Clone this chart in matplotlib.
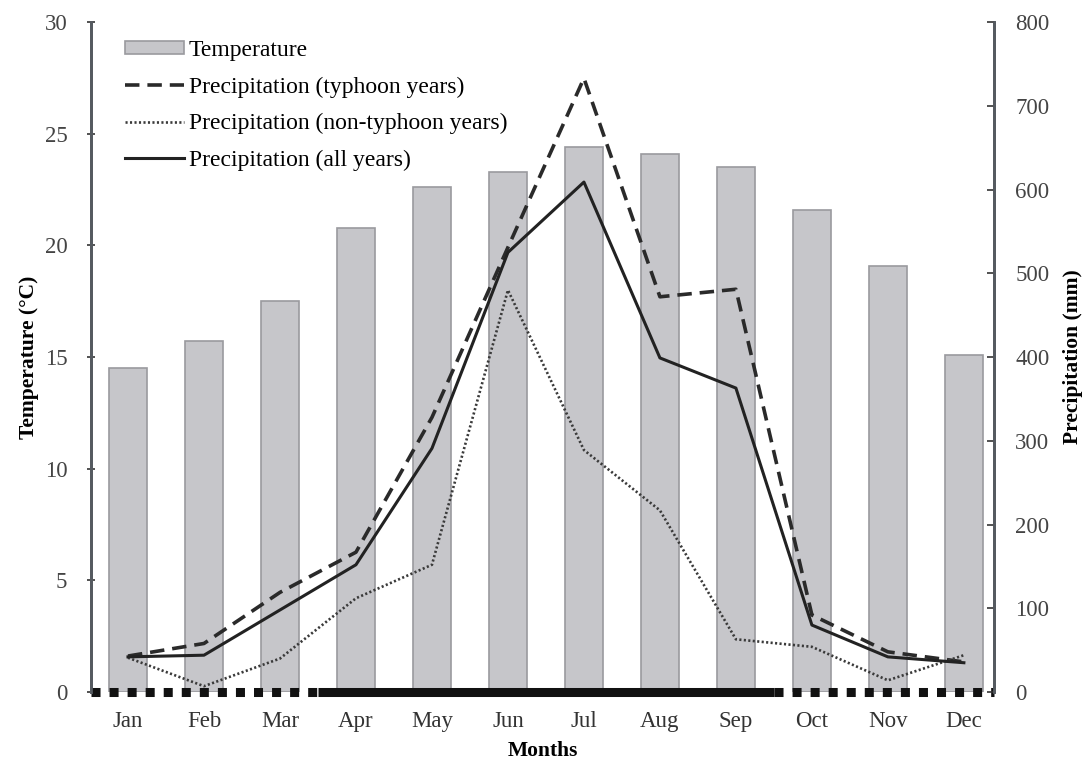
import matplotlib.pyplot as plt
import numpy as np

months = ["Jan", "Feb", "Mar", "Apr", "May", "Jun",
          "Jul", "Aug", "Sep", "Oct", "Nov", "Dec"]
temperature = [14.5, 15.7, 17.5, 20.8, 22.6, 23.3, 24.4, 24.1, 23.5, 21.6, 19.1, 15.1]
precip_typhoon = [43, 58, 119, 167, 328, 531, 733, 472, 481, 92, 48, 36]
precip_non_typhoon = [41, 7, 40, 112, 152, 480, 289, 217, 63, 54, 14, 44]
precip_all = [42, 44, 98, 152, 291, 525, 609, 399, 363, 80, 42, 35]

# typhoon season shown as solid band on the x axis (Apr-Sep)
season_start, season_end = 2.5, 8.5

plt.rcParams['font.family'] = ['Liberation Serif', 'DejaVu Serif']
plt.rcParams['font.size'] = 17

x = np.arange(len(months))
fig = plt.figure(figsize=(10.87, 7.63), dpi=100)
ax = fig.add_axes([0.0837, 0.093, 0.831, 0.878])
ax2 = ax.twinx()

ax.bar(x, temperature, width=0.5, color="#c6c6ca", edgecolor="#9a9a9e",
       linewidth=1.2, label="Temperature", zorder=2)

ax2.plot(x, precip_typhoon, color="#2a2a2a", lw=2.6, dashes=(4, 2.2),
         label="Precipitation (typhoon years)")
ax2.plot(x, precip_non_typhoon, color="#3a3a3a", lw=1.9, dashes=(0.8, 0.9),
         label="Precipitation (non-typhoon years)")
ax2.plot(x, precip_all, color="#222222", lw=2.2, label="Precipitation (all years)")

xmin, xmax = -0.487, 11.40
ax.set_xlim(xmin, xmax)
ax.set_ylim(0, 30)
ax2.set_ylim(0, 800)
ax.set_yticks(np.arange(0, 31, 5))
ax2.set_yticks(np.arange(0, 801, 100))
ax.set_xticks(x)
ax.set_xticklabels(months)

# thick band along the baseline: dashed outside the season, solid inside
ax.plot([xmin, season_start], [0, 0], color="#111111", lw=6.5, dashes=(1, 1),
        dash_capstyle="butt", clip_on=False, zorder=5)
ax.plot([season_start, season_end], [0, 0], color="#111111", lw=6.5,
        solid_capstyle="butt", clip_on=False, zorder=5)
ax.plot([season_end, xmax], [0, 0], color="#111111", lw=6.5, dashes=(1, 1),
        dash_capstyle="butt", clip_on=False, zorder=5)

for a in (ax, ax2):
    a.spines["top"].set_visible(False)
    a.spines["bottom"].set_visible(False)
    a.spines["left"].set_color("#555a60")
    a.spines["right"].set_color("#555a60")
    a.spines["left"].set_linewidth(2)
    a.spines["right"].set_linewidth(2)

ax.tick_params(axis="x", length=0, pad=14, colors="#333333", labelsize=16.5)
ax.tick_params(axis="y", direction="inout", length=6, width=1.2, pad=14,
               colors="#333333", labelcolor="#444444", labelsize=16.5)
ax2.tick_params(axis="y", direction="in", length=5, width=1.2, pad=15,
                colors="#333333", labelcolor="#444444", labelsize=16.5)

ax.set_ylabel("Temperature (°C)", fontweight="bold", fontsize=15.5, labelpad=4)
ax2.set_ylabel("Precipitation (mm)", fontweight="bold", fontsize=15.5, labelpad=10)
ax.set_xlabel("Months", fontweight="bold", fontsize=15.5, labelpad=6)

h1, l1 = ax.get_legend_handles_labels()
h2, l2 = ax2.get_legend_handles_labels()
ax2.legend(h1 + h2, l1 + l2, loc="upper left", bbox_to_anchor=(0.014, 1.005),
           frameon=False, handlelength=2.5, handleheight=0.45, handletextpad=0.2,
           labelspacing=0.65, fontsize=17)

fig.savefig("out.png", dpi=100)
